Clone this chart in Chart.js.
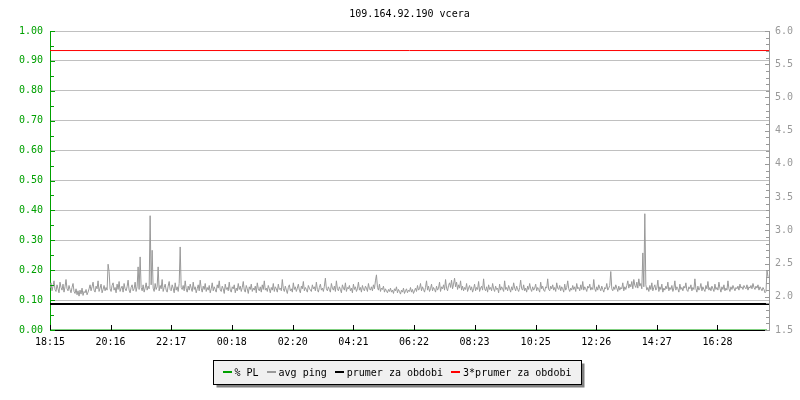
<!DOCTYPE html>
<html><head><meta charset="utf-8">
<script src="https://cdn.jsdelivr.net/npm/chart.js@4.4.0/dist/chart.umd.min.js"></script>
<style>html,body{margin:0;padding:0;background:#fff;}canvas{display:block;}</style>
</head><body>
<canvas id="c" width="800" height="400"></canvas>
<script>
// ---------- data ----------
const chartTitle = '109.164.92.190 vcera';
const tickValues = [0, 121, 242, 363, 485, 606, 727, 848, 970, 1091, 1212, 1333]; // minutes after 18:15
const tickLabels = ['18:15', '20:16', '22:17', '00:18', '02:20', '04:21', '06:22', '08:23', '10:25', '12:26', '14:27', '16:28'];
const xMaxMinutes = 1436;
const sampleStepMinutes = 2;
const pingValues = [
  2.13,2.21,2.09,2.16,2.24,2.11,2.08,2.18,2.12,2.06,2.22,2.14,2.10,2.19,2.07,2.15,2.26,2.12,2.09,2.17,
  2.11,2.06,2.14,2.20,2.08,2.05,2.12,2.03,2.09,2.01,2.10,2.04,2.13,2.02,2.08,2.06,2.11,2.03,2.07,2.12,
  2.18,2.09,2.15,2.22,2.10,2.07,2.16,2.12,2.24,2.08,2.13,2.19,2.06,2.11,2.17,2.09,2.14,2.10,2.49,2.38,
  2.12,2.08,2.17,2.21,2.10,2.14,2.06,2.19,2.11,2.23,2.08,2.13,2.16,2.07,2.20,2.12,2.09,2.15,2.25,2.10,
  2.06,2.14,2.18,2.09,2.12,2.22,2.08,2.15,2.45,2.11,2.60,2.14,2.09,2.18,2.07,2.13,2.21,2.10,2.16,2.12,
  3.22,2.18,2.70,2.13,2.08,2.20,2.11,2.15,2.45,2.09,2.17,2.12,2.26,2.08,2.14,2.19,2.10,2.07,2.16,2.23,
  2.11,2.09,2.18,2.13,2.06,2.21,2.10,2.15,2.08,2.20,2.75,2.14,2.11,2.17,2.09,2.24,2.12,2.07,2.16,2.10,
  2.19,2.13,2.08,2.22,2.11,2.15,2.06,2.12,2.18,2.09,2.25,2.13,2.07,2.16,2.11,2.20,2.08,2.14,2.10,2.17,
  2.06,2.12,2.21,2.09,2.15,2.11,2.07,2.18,2.13,2.24,2.10,2.08,2.16,2.12,2.05,2.19,2.11,2.14,2.09,2.22,
  2.10,2.07,2.15,2.12,2.18,2.06,2.13,2.09,2.20,2.11,2.16,2.08,2.14,2.23,2.10,2.07,2.17,2.12,2.05,2.15,
  2.11,2.19,2.08,2.13,2.10,2.16,2.06,2.21,2.12,2.09,2.15,2.07,2.18,2.11,2.24,2.10,2.13,2.08,2.17,2.12,
  2.06,2.14,2.10,2.20,2.08,2.15,2.12,2.07,2.19,2.11,2.13,2.09,2.26,2.12,2.08,2.16,2.10,2.05,2.14,2.18,
  2.09,2.12,2.07,2.21,2.11,2.15,2.08,2.13,2.19,2.10,2.06,2.16,2.12,2.23,2.09,2.14,2.11,2.07,2.17,2.13,
  2.10,2.08,2.18,2.12,2.15,2.09,2.22,2.11,2.07,2.14,2.19,2.10,2.13,2.08,2.16,2.28,2.12,2.09,2.15,2.11,
  2.07,2.20,2.13,2.10,2.16,2.08,2.24,2.12,2.09,2.15,2.11,2.06,2.18,2.13,2.10,2.21,2.08,2.14,2.12,2.17,
  2.09,2.13,2.06,2.19,2.11,2.15,2.08,2.12,2.22,2.10,2.14,2.07,2.17,2.11,2.09,2.16,2.13,2.08,2.20,2.12,
  2.10,2.15,2.09,2.18,2.12,2.24,2.33,2.14,2.10,2.19,2.08,2.13,2.11,2.16,2.07,2.12,2.09,2.06,2.11,2.08,
  2.13,2.07,2.10,2.05,2.12,2.09,2.15,2.06,2.11,2.08,2.04,2.10,2.07,2.13,2.05,2.09,2.12,2.06,2.10,2.08,
  2.14,2.07,2.11,2.05,2.09,2.13,2.08,2.17,2.10,2.12,2.20,2.09,2.15,2.11,2.07,2.14,2.24,2.10,2.16,2.08,
  2.12,2.19,2.09,2.14,2.11,2.07,2.16,2.10,2.13,2.22,2.08,2.15,2.12,2.18,2.10,2.26,2.13,2.09,2.17,2.21,
  2.14,2.25,2.12,2.19,2.28,2.15,2.22,2.11,2.18,2.13,2.24,2.10,2.16,2.09,2.14,2.11,2.20,2.08,2.13,2.17,
  2.10,2.15,2.07,2.12,2.19,2.09,2.14,2.11,2.23,2.08,2.13,2.16,2.10,2.27,2.12,2.09,2.15,2.07,2.18,2.11,
  2.14,2.09,2.20,2.12,2.08,2.16,2.11,2.13,2.06,2.19,2.10,2.15,2.12,2.08,2.24,2.11,2.14,2.09,2.17,2.12,
  2.07,2.15,2.10,2.21,2.13,2.09,2.16,2.11,2.08,2.14,2.25,2.12,2.10,2.18,2.09,2.13,2.07,2.16,2.11,2.20,
  2.12,2.08,2.15,2.10,2.13,2.19,2.09,2.14,2.11,2.07,2.22,2.12,2.16,2.10,2.08,2.15,2.13,2.27,2.11,2.09,
  2.16,2.12,2.18,2.10,2.14,2.08,2.21,2.13,2.11,2.17,2.09,2.15,2.12,2.07,2.19,2.10,2.14,2.24,2.12,2.08,
  2.13,2.10,2.17,2.11,2.15,2.08,2.20,2.12,2.14,2.09,2.18,2.11,2.23,2.10,2.15,2.12,2.08,2.16,2.13,2.19,
  2.10,2.14,2.11,2.26,2.12,2.08,2.15,2.10,2.18,2.13,2.09,2.16,2.11,2.07,2.14,2.12,2.20,2.10,2.13,2.17,
  2.38,2.12,2.09,2.15,2.11,2.18,2.13,2.08,2.16,2.10,2.14,2.12,2.21,2.09,2.15,2.11,2.17,2.24,2.13,2.19,
  2.15,2.23,2.12,2.26,2.17,2.14,2.22,2.13,2.27,2.16,2.20,2.12,2.66,2.15,3.25,2.18,2.10,2.14,2.08,2.17,
  2.11,2.21,2.09,2.14,2.18,2.10,2.13,2.25,2.08,2.15,2.11,2.19,2.07,2.13,2.10,2.16,2.12,2.22,2.09,2.14,
  2.11,2.17,2.08,2.13,2.24,2.10,2.15,2.12,2.07,2.19,2.11,2.14,2.09,2.16,2.13,2.21,2.10,2.08,2.15,2.12,
  2.18,2.09,2.14,2.11,2.27,2.12,2.07,2.16,2.10,2.13,2.20,2.09,2.15,2.11,2.08,2.17,2.12,2.23,2.10,2.14,
  2.09,2.16,2.12,2.08,2.19,2.11,2.14,2.10,2.22,2.13,2.07,2.15,2.11,2.18,2.09,2.13,2.10,2.24,2.12,2.08,
  2.15,2.11,2.17,2.13,2.09,2.14,2.12,2.16,2.10,2.19,2.13,2.15,2.11,2.17,2.14,2.12,2.18,2.10,2.15,2.13,
  2.17,2.12,2.20,2.14,2.11,2.16,2.13,2.18,2.10,2.15,2.12,2.09,2.14,2.11,2.06,2.08,2.40,2.30
];
const plTimes = [0, 1432];
const plValues = [0, 0];
const meanPing = 1.891;
const threeMeanPing = 5.706;
const seriesNames = ['% PL', 'avg ping', 'prumer za obdobi', '3*prumer za obdobi'];
const seriesColors = ['#00a000', '#999999', '#000000', '#ff0000'];

// ---------- styles ----------
const FONT = "'DejaVu Sans Mono', 'Liberation Mono', monospace";
const GREEN = '#00a000';
const RGREY = '#999999';

const pingPoints = pingValues.map((v, i) => ({x: i * sampleStepMinutes, y: v}));
const plPoints = plTimes.map((t, i) => ({x: t, y: plValues[i]}));
const flat = v => [{x: 0, y: v}, {x: xMaxMinutes, y: v}];

const decoPlugin = {
  id: 'deco',
  afterDraw(chart) {
    const ctx = chart.ctx;
    const ca = chart.chartArea;
    const y = chart.scales.y, y2 = chart.scales.y2, x = chart.scales.x;
    ctx.save();
    ctx.lineWidth = 1;
    ctx.strokeStyle = GREEN;
    for (let k = 0; k <= 20; k++) {
      const py = Math.round(y.getPixelForValue(k * 0.05)) + 0.5;
      const len = (k % 2 === 0) ? 5 : 4;
      ctx.beginPath(); ctx.moveTo(ca.left, py); ctx.lineTo(ca.left + len, py); ctx.stroke();
    }
    ctx.strokeStyle = RGREY;
    for (let k = 0; k <= 45; k++) {
      const v = 1.5 + k * 0.1;
      const py = Math.round(y2.getPixelForValue(v)) + 0.5;
      const len = (k % 5 === 0) ? 4 : 3;
      ctx.beginPath(); ctx.moveTo(ca.right, py); ctx.lineTo(ca.right - len, py); ctx.stroke();
    }
    ctx.strokeStyle = '#000';
    tickValues.forEach(v => {
      const px = Math.round(x.getPixelForValue(v)) + 0.5;
      ctx.beginPath(); ctx.moveTo(px, ca.bottom); ctx.lineTo(px, ca.bottom - 5); ctx.stroke();
    });
    ctx.fillStyle = '#000';
    ctx.font = '10px ' + FONT;
    ctx.textAlign = 'center';
    ctx.textBaseline = 'alphabetic';
    ctx.fillText(chartTitle, (ca.left + ca.right) / 2, 17);
    ctx.textAlign = 'left';
    const markW = 9, markGap = 12, itemGap = 8;
    let total = 0;
    seriesNames.forEach((n, i) => {
      total += markGap + ctx.measureText(n).width + (i < seriesNames.length - 1 ? itemGap : 0);
    });
    const padL = 9, padR = 10;
    const boxW = Math.round(total + padL + padR);
    const boxX = Math.round(397 - boxW / 2) + 0.5;
    const boxY = 360.5, boxH = 24;
    ctx.fillStyle = '#808080';
    ctx.fillRect(boxX + 3, boxY + 3, boxW, boxH);
    ctx.fillStyle = '#f0f0f0';
    ctx.fillRect(boxX, boxY, boxW, boxH);
    ctx.strokeStyle = '#000';
    ctx.strokeRect(boxX, boxY, boxW, boxH);
    let cx = boxX + padL;
    seriesNames.forEach((n, i) => {
      ctx.fillStyle = seriesColors[i];
      ctx.fillRect(Math.round(cx), 371, markW, 2);
      ctx.fillStyle = '#000';
      ctx.fillText(n, cx + markGap, 376);
      cx += markGap + ctx.measureText(n).width + itemGap;
    });
    ctx.restore();
  }
};

new Chart(document.getElementById('c'), {
  type: 'line',
  data: {
    datasets: [
      {label: seriesNames[0], data: plPoints, yAxisID: 'y', borderColor: seriesColors[0], borderWidth: 1, pointRadius: 0},
      {label: seriesNames[1], data: pingPoints, yAxisID: 'y2', borderColor: seriesColors[1], borderWidth: 1, pointRadius: 0},
      {label: seriesNames[2], data: flat(meanPing), yAxisID: 'y2', borderColor: seriesColors[2], borderWidth: 2, pointRadius: 0},
      {label: seriesNames[3], data: flat(threeMeanPing), yAxisID: 'y2', borderColor: seriesColors[3], borderWidth: 1, pointRadius: 0}
    ]
  },
  options: {
    responsive: false,
    animation: false,
    devicePixelRatio: 1,
    layout: {padding: {top: 31, left: 0, right: 0, bottom: 0}},
    plugins: {legend: {display: false}, title: {display: false}, tooltip: {enabled: false}},
    elements: {line: {tension: 0}},
    scales: {
      x: {
        type: 'linear', min: 0, max: xMaxMinutes,
        afterBuildTicks: s => { s.ticks = tickValues.map(v => ({value: v})); },
        afterFit: s => { s.height = 70; },
        grid: {display: false, drawTicks: false},
        border: {display: true, color: '#000', width: 1},
        ticks: {
          autoSkip: false, maxRotation: 0, padding: 6, color: '#000',
          font: {family: FONT, size: 10},
          callback: (v, i) => tickLabels[i]
        }
      },
      y: {
        position: 'left', min: 0, max: 1,
        afterFit: s => { s.width = 50; },
        grid: {color: '#c0c0c0', drawTicks: false, lineWidth: 1},
        border: {display: true, color: GREEN, width: 1},
        ticks: {stepSize: 0.1, padding: 7, color: GREEN, font: {family: FONT, size: 10},
          callback: v => Number(v).toFixed(2)}
      },
      y2: {
        position: 'right', min: 1.5, max: 6,
        afterFit: s => { s.width = 31; },
        grid: {display: false, drawTicks: false},
        border: {display: true, color: RGREY, width: 1},
        ticks: {stepSize: 0.5, padding: 6, color: RGREY, font: {family: FONT, size: 10},
          callback: v => Number(v).toFixed(1)}
      }
    }
  },
  plugins: [decoPlugin]
});
</script>
</body></html>
